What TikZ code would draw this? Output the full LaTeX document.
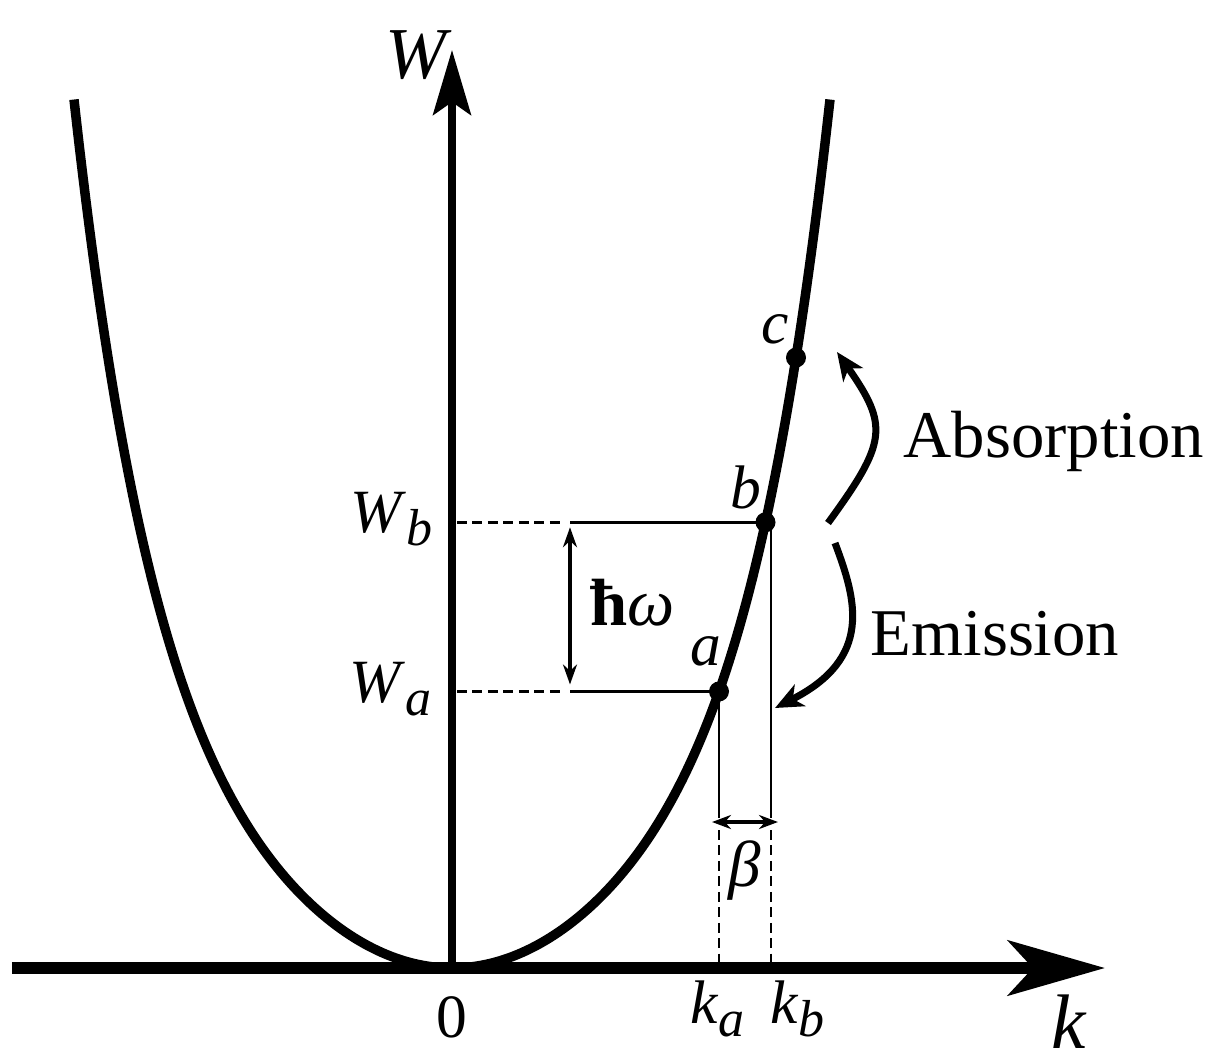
\documentclass[tikz,border=0pt]{standalone}
\usepackage{fontspec}
\setmainfont{Liberation Serif}
\usetikzlibrary{arrows.meta, calc}

% lowered, slightly smaller italic index
\newcommand{\lowsub}[1]{\raisebox{-0.13cm}{\fontsize{14.8}{16}\selectfont\textit{#1}}}

\begin{document}
\begin{tikzpicture}[
  declare function={wk(\x)=0.315*\x*\x+0.001436*(\x*\x)^3;},
  lbl/.style={inner sep=0pt, font=\fontsize{17.5}{20}\selectfont},
  word/.style={inner sep=0pt, anchor=base west, font=\fontsize{19}{22}\selectfont},
  curve/.style={line width=2.7pt},
  guide/.style={line width=0.8pt},
  guidedash/.style={line width=0.8pt, dash pattern=on 2.8pt off 1.6pt},
  dot/.style={circle, fill, inner sep=0pt, minimum size=2mm},
  gap/.style={<->, >={Stealth[length=2mm, width=1.4mm]}, line width=1.1pt},
  swing/.style={->, >={Stealth[length=2.8mm, width=2.4mm, inset=0.8mm]}, line width=2pt},
]
  \useasboundingbox (-4.52,-0.93) rectangle (7.69,9.68);
  \pgfmathsetmacro{\Wa}{wk(2.67)}
  \pgfmathsetmacro{\Wb}{wk(3.135)}

  % --- axes ---
  \coordinate (O) at (0,0);
  \coordinate (kstart) at (-4.40,0);
  \coordinate (kend) at (6.53,0);
  \coordinate (Wend) at (0,9.18);
  \draw[line width=3.4pt, -{Stealth[length=9.7mm, width=5.5mm, inset=2.5mm]}] (kstart) -- (kend);
  \draw[line width=2pt, -{Stealth[length=6.5mm, width=3.8mm, inset=1.3mm]}] (O) -- (Wend);

  % --- dispersion curve and states ---
  \draw[curve] plot[domain=-3.78:3.78, samples=151, smooth] (\x,{wk(\x)});
  \foreach \n/\u in {a/2.67, b/3.135, c/3.44}{
    \node[dot] (\n) at (\u,{wk(\u)}) {};
  }

  % --- energy levels ---
  \coordinate (WbL) at (0.05,\Wb);
  \coordinate (WbM) at (1.12,\Wb);
  \coordinate (WbR) at (1.18,\Wb);
  \coordinate (WaL) at (0.05,\Wa);
  \coordinate (WaM) at (1.12,\Wa);
  \coordinate (WaR) at (1.18,\Wa);
  \draw[guidedash] (WbL) -- (WbM);
  \draw[guidedash] (WaL) -- (WaM);
  \draw[guide] (WbR) -- (b.center);
  \draw[guide] (WaR) -- (a.center);
  \draw[gap] ($(WaR)+(0,0.07)$) -- ($(WbR)+(0,-0.05)$);

  % --- momentum spread ---
  \coordinate (kbx) at (3.19,0);
  \coordinate (betaL) at (2.60,1.46);
  \coordinate (betaR) at (3.26,1.46);
  \draw[guide] (a.center) -- (a.center |- 0,1.50);
  \draw[guidedash] (a.center |- 0,1.38) -- (a.center |- O);
  \draw[guide] (kbx |- b) -- (kbx |- 0,1.50);
  \draw[guidedash] (kbx |- 0,1.38) -- (kbx);
  \draw[<->, >={Stealth[length=1.9mm, width=1.4mm]}, line width=1pt] (betaL) -- (betaR);

  % --- transitions ---
  \coordinate (absS) at (3.76,4.45);
  \coordinate (absE) at (3.85,6.16);
  \coordinate (emS) at (3.83,4.25);
  \coordinate (emE) at (3.23,2.60);
  \draw[swing] (absS) .. controls (4.35,5.26) and (4.37,5.42) .. (absE);
  \draw[swing] (emS) .. controls (4.04,3.69) and (4.22,3.10) .. (emE);
  \node[word] (absorb) at (4.51,5.11) {Absorption};
  \node[word] (emit) at (4.18,3.13) {Emission};

  % --- labels ---
  \node[inner sep=0pt, anchor=base west, font=\fontsize{20.8}{24}\selectfont] (Wlab) at (-0.67,8.90) {\textit{W}};
  \node[inner sep=0pt, anchor=base west, font=\fontsize{22}{26}\selectfont] (klab) at (5.99,-0.80) {\textit{k}};
  \node[lbl, anchor=base] (zero) at (0,-0.69) {0};
  \node[lbl, anchor=base west] (kalab) at (2.38,-0.55) {\textit{k}\lowsub{a}};
  \node[lbl, anchor=base west] (kblab) at (3.18,-0.55) {\textit{k}\lowsub{b}};
  \node[lbl, anchor=base east] (Wblab) at (-0.19,4.36) {\textit{W}\lowsub{b}};
  \node[lbl, anchor=base east] (Walab) at (-0.20,2.66) {\textit{W}\lowsub{a}};
  \node[lbl, anchor=base] (alab) at (2.54,3.03) {\textit{a}};
  \node[lbl, anchor=base] (blab) at (2.94,4.60) {\textit{b}};
  \node[lbl, anchor=base] (clab) at (3.23,6.25) {\textit{c}};
  \node[inner sep=0pt, anchor=base west, font=\fontsize{19}{22}\selectfont] (hwlab) at (1.38,3.43) {{\bfseries ħ}\textit{ω}};
  \node[inner sep=0pt, anchor=base, font=\fontsize{18.5}{22}\selectfont] (betalab) at (2.93,0.82) {\textit{β}};
\end{tikzpicture}
\end{document}
